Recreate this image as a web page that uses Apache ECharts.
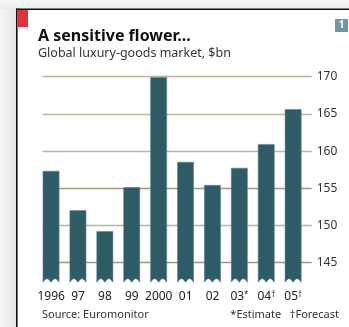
<!DOCTYPE html>
<html>
<head>
<meta charset="utf-8">
<style>
html,body{margin:0;padding:0;background:#fff;}
#c{width:349px;height:327px;}
</style>
<script src="https://cdn.jsdelivr.net/npm/echarts@6/dist/echarts.min.js"></script>
</head>
<body>
<div id="c"></div>
<script>
const categories = ['1996', '97', '98', '99', '2000', '01', '02', '03*', '04\u2020', '05\u2020'];
const values = [157.3, 152.0, 149.2, 155.1, 169.9, 158.5, 155.4, 157.7, 160.9, 165.6];
const yMin = 142.5, yMax = 170, yStep = 2.5;

const FONT = '"Noto Sans", sans-serif';
const chart = echarts.init(document.getElementById('c'), null, {renderer: 'canvas'});

function renderBar(params, api) {
  const i = api.value(0), v = api.value(1);
  const top = api.coord([i, v]);
  const base = api.coord([i, yMin]);
  const bw = api.size([1, 0])[0];
  const w = bw * 0.6;
  const cx = top[0] - bw * 0.19;
  const x0 = cx - w / 2, x1 = cx + w / 2, yt = top[1], yb = base[1] + 1;
  const pts = [[x0, yt], [x1, yt], [x1, yb]];
  const h = 3.5, n = 8, half = w / 2;
  for (let k = 1; k <= n; k++) { const t = k / n; pts.push([x1 - t * half, yb - h * Math.sin(Math.PI * t)]); }
  for (let k = 1; k <= n; k++) { const t = k / n; pts.push([cx - t * half, yb - h * Math.sin(Math.PI * t)]); }
  return {type: 'polygon', shape: {points: pts}, style: {fill: '#2f5b67', stroke: '#5f8790', lineWidth: 0.6}};
}

const gridColors = [];
for (let v = yMin; v <= yMax + 1e-6; v += yStep) {
  if (Math.abs(v % 5) > 1e-6) gridColors.push('rgba(0,0,0,0)');
  else if (v === 155 || v === 145) gridColors.push('#a09682');
  else gridColors.push('#bdb49e');
}

chart.setOption({
  animation: false,
  backgroundColor: '#fff',
  title: {
    text: 'A sensitive flower...',
    subtext: 'Global luxury-goods market, $bn',
    left: 33, top: 23, itemGap: 3,
    textStyle: {fontFamily: FONT, fontSize: 16, fontWeight: 'bold', color: '#111'},
    subtextStyle: {fontFamily: FONT, fontSize: 12.5, color: '#333'}
  },
  grid: {left: 42.7, right: 37.3, top: 76.7, bottom: 45.7},
  xAxis: {
    type: 'category', data: categories,
    axisLine: {show: false}, axisTick: {show: false},
    axisLabel: {
      margin: 9, interval: 0, color: '#222', fontFamily: FONT, fontSize: 12,
      padding: [0, 10, 0, 0],
      formatter: s => s.replace('*', '{s|*}').replace('\u2020', '{s|\u2020}'),
      rich: {s: {fontSize: 8, verticalAlign: 'top', color: '#222', fontFamily: FONT, padding: [0, 0, 4, 0]}}
    }
  },
  yAxis: {
    type: 'value', position: 'right', min: yMin, max: yMax, interval: yStep,
    axisLine: {show: false}, axisTick: {show: false},
    axisLabel: {margin: 5, color: '#333', fontFamily: FONT, fontSize: 12,
      formatter: v => (Math.abs(v % 5) < 1e-6 ? String(v) : '')},
    splitLine: {show: true, lineStyle: {color: gridColors, width: 1.3}}
  },
  series: [{
    type: 'custom',
    renderItem: renderBar,
    data: values.map((v, i) => [i, v]),
    encode: {x: 0, y: 1}
  }],
  graphic: [
    {type: 'rect', left: 0, top: 0, shape: {width: 16, height: 327},
      style: {fill: new echarts.graphic.LinearGradient(0, 0, 1, 0, [{offset: 0, color: '#f6f6f6'}, {offset: 1, color: '#e6e6e6'}])}, z: 0},
    {type: 'rect', left: 0, top: 0, shape: {width: 349, height: 9},
      style: {fill: new echarts.graphic.LinearGradient(0, 0, 0, 1, [{offset: 0, color: '#f8f8f8'}, {offset: 1, color: '#eaeaea'}])}, z: 0},
    {type: 'rect', shape: {x: 16, y: 8.5, width: 1.6, height: 330}, style: {fill: '#111'}, z: 5},
    {type: 'rect', shape: {x: 16, y: 8.5, width: 340, height: 1.6}, style: {fill: '#111'}, z: 5},
    {type: 'rect', shape: {x: 18, y: 10, width: 10, height: 17}, style: {fill: '#e2313b'}, z: 5},
    {type: 'rect', shape: {x: 335, y: 19, width: 13, height: 13}, style: {fill: '#6f98a3'}, z: 5},
    {type: 'text', x: 341.5, y: 25.5, style: {text: '1', fill: '#fff', font: 'bold 10px ' + FONT, align: 'center', verticalAlign: 'middle'}, z: 6},
    {type: 'text', x: 42, y: 320, style: {text: 'Source: Euromonitor', fill: '#333', font: '11px ' + FONT, verticalAlign: 'bottom'}, z: 5},
    {type: 'text', x: 339, y: 320, style: {text: '*Estimate   \u2020Forecast', fill: '#333', font: '11px ' + FONT, align: 'right', verticalAlign: 'bottom'}, z: 5}
  ]
});
</script>
</body>
</html>
